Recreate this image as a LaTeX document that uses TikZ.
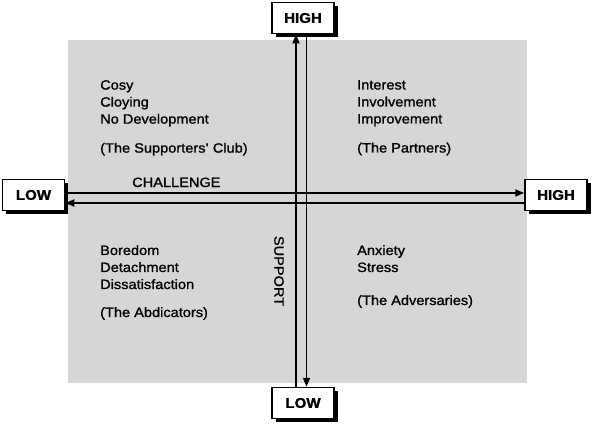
\documentclass[tikz,border=0pt]{standalone}
\usepackage{fontspec}
\setmainfont{Liberation Sans}[FakeStretch=1.08,FakeBold=1.2]
\usetikzlibrary{arrows.meta,shadows}

\definecolor{panelgrey}{RGB}{214,214,214}
\tikzset{
	endbox/.style={draw,line width=1.5pt,fill=white,minimum width=62pt,minimum height=31pt,
		font=\bfseries\fontsize{14}{16}\selectfont,
		general shadow={fill=black,shadow xshift=3.5pt,shadow yshift=-3.5pt}},
	axisline/.style={line width=1.8pt,-{Triangle[length=9pt,width=7pt]}},
	quadtext/.style={align=left,anchor=north west,inner sep=0pt,font=\fontsize{13.5}{17}\selectfont},
	axislabel/.style={inner sep=0pt,font=\fontsize{13.5}{16}\selectfont},
}

\begin{document}
\begin{tikzpicture}[x=1pt,y=-1pt]
\useasboundingbox (0,0) rectangle (594,426);
%
	\fill[panelgrey] (68,40) rectangle (527,383);
%
	\node[endbox] (hi) at (303,18) {HIGH};
	\node[endbox] (lo) at (303,403) {LOW};
	\node[endbox] (lowx) at (33.5,195) {LOW};
	\node[endbox] (highx) at (556,195) {HIGH};
%
	\draw[axisline] ([xshift=-7pt]lo.north) -- ([xshift=-7pt]hi.south);
	\draw[axisline] ([xshift=3.5pt]hi.south) -- ([xshift=3.5pt]lo.north);
	\draw[axisline] ([yshift=2pt]lowx.east) -- ([yshift=2pt]highx.west);
	\draw[axisline] ([yshift=-8pt]highx.west) -- ([yshift=-8pt]lowx.east);
%
	\node[axislabel,anchor=base west] (chal) at (132,187) {CHALLENGE};
	\node[axislabel,rotate=-90] (supp) at (279,271) {SUPPORT};
%
	\node[quadtext] (tl) at (100,80) {Cosy\\Cloying\\No Development\\[12pt](The Supporters' Club)};
	\node[quadtext] (tr) at (357,80) {Interest\\Involvement\\Improvement\\[12pt](The Partners)};
	\node[quadtext] (bl) at (100,245) {Boredom\\Detachment\\Dissatisfaction\\[11pt](The Abdicators)};
	\node[quadtext] (br) at (357,245) {Anxiety\\Stress\\[16pt](The Adversaries)};
\end{tikzpicture}
\end{document}
